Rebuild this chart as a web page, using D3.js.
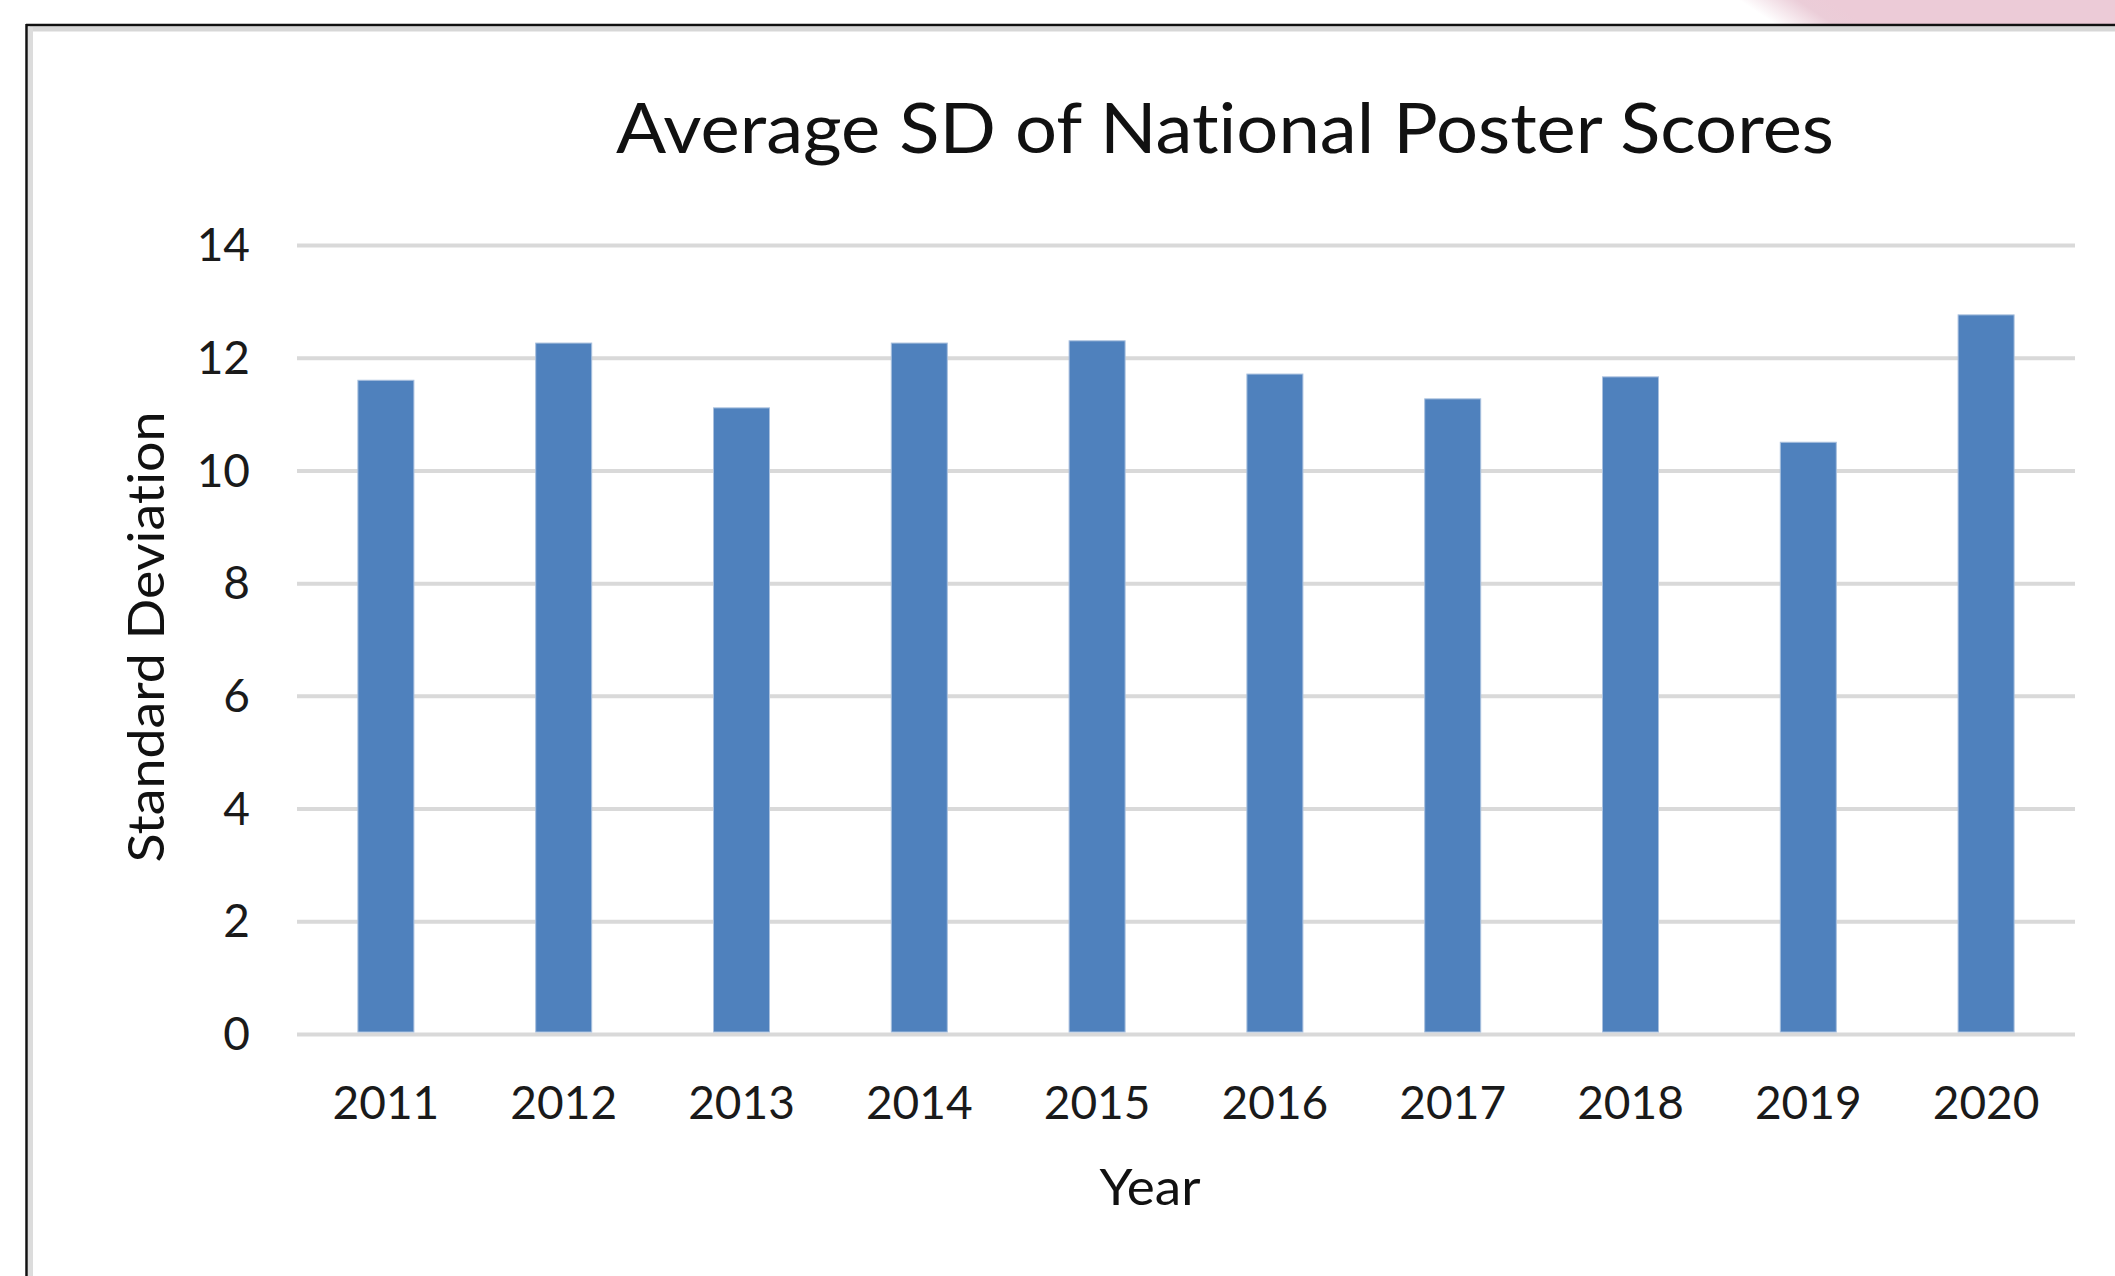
<!DOCTYPE html>
<html>
<head>
<meta charset="utf-8">
<script src="https://cdn.jsdelivr.net/npm/d3@7"></script>
<style>
  html, body { margin: 0; padding: 0; background: #ffffff; }
  svg { display: block; }
  text { font-variant-ligatures: none; font-feature-settings: "liga" 0, "clig" 0, "dlig" 0; }
</style>
</head>
<body>
<svg id="chart" width="2115" height="1276"></svg>
<script>
// ---- data ----
const years = ["2011", "2012", "2013", "2014", "2015", "2016", "2017", "2018", "2019", "2020"];
const sdValues = [11.6, 12.26, 11.11, 12.26, 12.3, 11.71, 11.27, 11.66, 10.5, 12.76];
const yTicks = [0, 2, 4, 6, 8, 10, 12, 14];
const titleText = "Average SD of National Poster Scores";
const xTitle = "Year";
const yTitle = "Standard Deviation";

// ---- layout ----
const W = 2115, H = 1276;
const plot = { left: 297, right: 2075, top: 245, bottom: 1034 };
const FONT = "Lato, 'Open Sans', 'DejaVu Sans', sans-serif";
const barColor = "#4f81bd";
const gridColor = "#d9d9d9";

const svg = d3.select("#chart");

// background
svg.append("rect").attr("width", W).attr("height", H).attr("fill", "#ffffff");

// pink decoration in top-right corner
const defs = svg.append("defs");
const grad = defs.append("linearGradient")
  .attr("id", "pinkGrad").attr("gradientUnits", "userSpaceOnUse")
  .attr("x1", 1760).attr("y1", 40).attr("x2", 1800).attr("y2", -20);
grad.append("stop").attr("offset", "0").attr("stop-color", "#ffffff");
grad.append("stop").attr("offset", "0.3").attr("stop-color", "#ffffff");
grad.append("stop").attr("offset", "0.75").attr("stop-color", "#ebcdd8");
grad.append("stop").attr("offset", "1").attr("stop-color", "#eccbd7");
svg.append("rect").attr("x", 1650).attr("y", 0).attr("width", W - 1650).attr("height", 25)
  .attr("fill", "url(#pinkGrad)");

// frame: gray inner shadow + black border line
svg.append("line").attr("x1", 30).attr("x2", W).attr("y1", 29).attr("y2", 29)
  .attr("stroke", "#d7d7d7").attr("stroke-width", 5);
svg.append("line").attr("x1", 30.5).attr("x2", 30.5).attr("y1", 27).attr("y2", H)
  .attr("stroke", "#dcdcdc").attr("stroke-width", 5);
svg.append("line").attr("x1", 26).attr("x2", W).attr("y1", 25).attr("y2", 25)
  .attr("stroke", "#111").attr("stroke-width", 2.5);
svg.append("line").attr("x1", 26.5).attr("x2", 26.5).attr("y1", 24).attr("y2", H)
  .attr("stroke", "#111").attr("stroke-width", 2.5);

// ---- scales ----
const x = d3.scaleBand()
  .domain(years)
  .range([plot.left, plot.right])
  .paddingInner(0.685)
  .paddingOuter(0.3425);

const y = d3.scaleLinear()
  .domain([0, 14])
  .range([plot.bottom, plot.top]);

// ---- y axis with gridlines ----
const yAxis = d3.axisLeft(y)
  .tickValues(yTicks)
  .tickFormat(d3.format("d"))
  .tickSizeInner(-(plot.right - plot.left))
  .tickSizeOuter(0)
  .tickPadding(47);

const gy = svg.append("g")
  .attr("transform", `translate(${plot.left},0)`)
  .call(yAxis);
gy.select(".domain").remove();
gy.selectAll(".tick line")
  .attr("stroke", gridColor).attr("stroke-width", 4);
gy.selectAll(".tick text")
  .attr("font-family", FONT).attr("font-size", 46).attr("fill", "#1a1a1a")
  .attr("dy", "0.34em");

// ---- bars ----
svg.append("g").selectAll("rect")
  .data(years.map((yr, i) => ({ yr, v: sdValues[i] })))
  .join("rect")
  .attr("x", d => x(d.yr))
  .attr("y", d => y(d.v))
  .attr("width", x.bandwidth())
  .attr("height", d => y(0) - y(d.v) - 2)
  .attr("fill", barColor)
  .attr("stroke", "#a9c0de")
  .attr("stroke-width", 1);

// ---- x axis ----
const xAxis = d3.axisBottom(x).tickSize(0).tickPadding(52);
const gx = svg.append("g")
  .attr("transform", `translate(0,${plot.bottom})`)
  .call(xAxis);
gx.select(".domain").remove();
gx.selectAll(".tick text")
  .attr("font-family", FONT).attr("font-size", 46).attr("fill", "#1a1a1a");

// ---- titles ----
function fitText(sel, len) {
  sel.attr("textLength", len).attr("lengthAdjust", "spacingAndGlyphs");
}

svg.append("text")
  .attr("x", 1225).attr("y", 153)
  .attr("text-anchor", "middle")
  .attr("font-family", FONT).attr("font-size", 69).attr("fill", "#111")
  .text(titleText)
  .call(fitText, 1218);

svg.append("text")
  .attr("x", 1150).attr("y", 1205)
  .attr("text-anchor", "middle")
  .attr("font-family", FONT).attr("font-size", 50).attr("fill", "#111")
  .text(xTitle)
  .call(fitText, 101);

svg.append("text")
  .attr("transform", `translate(164,637) rotate(-90)`)
  .attr("text-anchor", "middle")
  .attr("font-family", FONT).attr("font-size", 50).attr("fill", "#111")
  .text(yTitle)
  .call(fitText, 451);
</script>
</body>
</html>
